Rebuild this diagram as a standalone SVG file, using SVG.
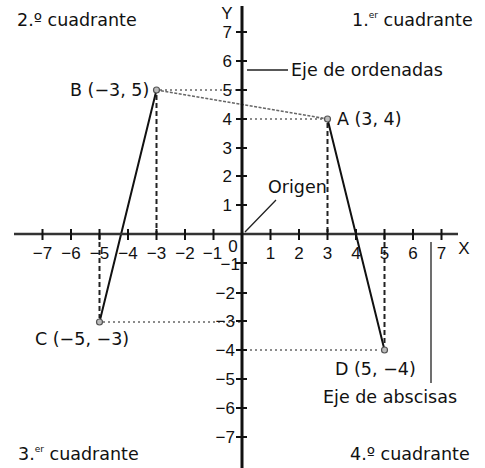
<svg xmlns="http://www.w3.org/2000/svg" width="485" height="468" viewBox="0 0 485 468">
<defs>
<style>
.lbl{font-family:"DejaVu Sans",sans-serif;font-size:17.5px;fill:#111}
.num{font-family:"Liberation Sans",Arial,sans-serif;font-size:17px;fill:#111}
.sup{font-size:9px}
.axis{stroke:#111;fill:none}
.tick{stroke:#111;stroke-width:2}
.seg{stroke:#111;stroke-width:2;fill:none}
.dash{stroke:#222;stroke-width:2;stroke-dasharray:5 3;fill:none}
.dot{stroke:#666;stroke-width:1.3;stroke-dasharray:2 3;fill:none}
.lead{stroke:#222;stroke-width:1.3;fill:none}
.pt{fill:#bbb;stroke:#555;stroke-width:1.2}
</style>
</defs>
<rect width="485" height="468" fill="#fff"/>
<g id="connectors">
<path class="dot" d="M160 90H240M245 119H324M103 322H240M245 350H380"/>
<path class="dash" d="M156.5 95V234M327.5 123V234M99.5 234V318M384.5 234V346"/>
<path class="dot" d="M156.5 90L327.5 119" style="stroke:#666;stroke-width:1.6;stroke-dasharray:3 1.5"/>
<path class="seg" d="M156.5 90L99.5 322M327.5 119L384.5 350"/>
<path class="lead" d="M247 70H288M245 232L276 200M431 242V383"/>
</g>
<g id="axes">
<path class="axis" d="M14 234H458" style="stroke:#333;stroke-width:2.5"/>
<path class="axis" d="M242 6V468" style="stroke-width:3"/>
<path class="tick" d="M42.5 229V240M71 229V240M99.5 229V240M128 229V240M156.5 229V240M185 229V240M213.5 229V240M270.5 229V240M299 229V240M327.5 229V240M356 229V240M384.5 229V240M413 229V240M441.5 229V240"/>
<path class="tick" d="M236 32H247M236 61H247M236 90H247M236 119H247M236 148H247M236 176H247M236 205H247M236 263H247M236 293H247M236 321H247M236 350H247M236 379H247M236 408H247M236 437H247"/>
</g>
<g id="xlabels" class="num" text-anchor="middle">
<text x="42.5" y="259">−7</text><text x="71" y="259">−6</text><text x="99.5" y="259">−5</text><text x="128" y="259">−4</text><text x="156.5" y="259">−3</text><text x="185" y="259">−2</text><text x="212.5" y="259">−1</text>
<text x="270.5" y="259">1</text><text x="299" y="259">2</text><text x="327.5" y="259">3</text><text x="356" y="259">4</text><text x="384.5" y="259">5</text><text x="413" y="259">6</text><text x="441.5" y="259">7</text>
<text x="464" y="254">X</text><text x="227" y="19">Y</text><text x="233" y="252">0</text>
</g>
<g id="ylabels" class="num" text-anchor="end">
<text x="232" y="38">7</text><text x="232" y="67">6</text><text x="232" y="96">5</text><text x="232" y="125">4</text><text x="232" y="154">3</text><text x="232" y="182">2</text><text x="232" y="211">1</text>
<text x="240" y="270">−1</text><text x="235" y="299">−2</text><text x="235" y="327">−3</text><text x="235" y="356">−4</text><text x="235" y="385">−5</text><text x="235" y="414">−6</text><text x="235" y="443">−7</text>
</g>
<g id="points">
<circle class="pt" cx="156.5" cy="90" r="3"/>
<circle class="pt" cx="327.5" cy="119" r="3"/>
<circle class="pt" cx="99.5" cy="322" r="3"/>
<circle class="pt" cx="384.5" cy="350" r="3"/>
</g>
<g id="label-B"><text class="lbl" x="70" y="96">B (−3, 5)</text></g>
<g id="label-A"><text class="lbl" x="337" y="125">A (3, 4)</text></g>
<g id="label-C"><text class="lbl" x="35" y="345">C (−5, −3)</text></g>
<g id="label-D"><text class="lbl" x="335" y="375">D (5, −4)</text></g>
<g id="label-origen"><text class="lbl" x="268" y="193">Origen</text></g>
<g id="label-ordenadas"><text class="lbl" x="291" y="76">Eje de ordenadas</text></g>
<g id="label-abscisas"><text class="lbl" x="323" y="403">Eje de abscisas</text></g>
<g id="q2"><text class="lbl" x="17" y="26">2.º cuadrante</text></g>
<g id="q1"><text class="lbl" x="352" y="26">1.<tspan class="sup" dy="-8">er</tspan><tspan dy="8"> cuadrante</tspan></text></g>
<g id="q3"><text class="lbl" x="18" y="460">3.<tspan class="sup" dy="-8">er</tspan><tspan dy="8"> cuadrante</tspan></text></g>
<g id="q4"><text class="lbl" x="350" y="460">4.º cuadrante</text></g>
</svg>
